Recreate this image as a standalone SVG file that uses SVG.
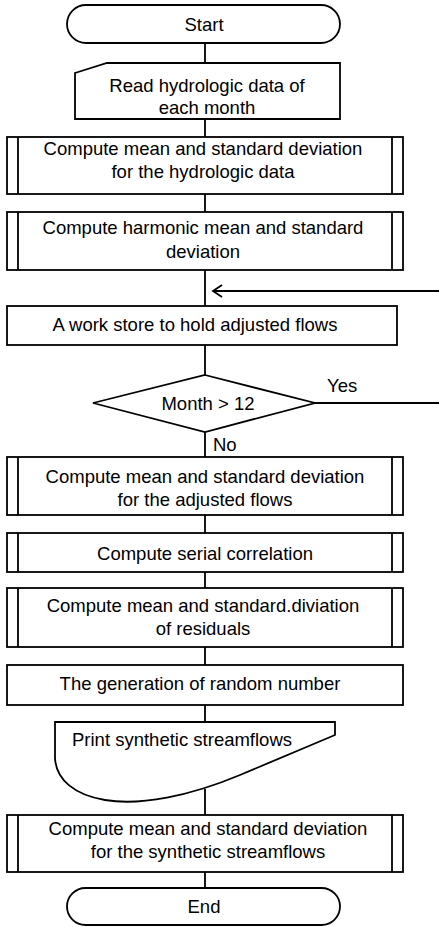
<svg xmlns="http://www.w3.org/2000/svg" width="439" height="927" viewBox="0 0 439 927">
<style>
.s{fill:#fff;stroke:#000;stroke-width:1.8}
.l{fill:none;stroke:#000;stroke-width:1.8}
text{font-family:"Liberation Sans",Arial,sans-serif;font-size:18.5px;fill:#000}
.c{text-anchor:middle}
</style>
<rect width="439" height="927" fill="#fff"/>
<g id="connectors">
<path class="l" d="M205,43V63M205,119V137M205,194V212M205,270V306M205,345V375M205,432V457M205,515V533M205,572V588M205,647V665M205,705V722M205,789V815M205,872V888"/>
<path class="l" d="M439,291H213M222,285L213,291L222,297"/>
<path class="l" d="M315,403H439"/>
<text x="327" y="392">Yes</text>
<text x="213" y="451">No</text>
</g>
<g id="start"><rect class="s" x="67" y="5" width="273" height="38" rx="19"/><text class="c" x="204" y="31">Start</text></g>
<g id="read"><path class="s" d="M75,73L107,63H340V119H75Z"/><text class="c" x="207" y="92">Read hydrologic data of</text><text class="c" x="207" y="114">each month</text></g>
<g id="p1"><rect class="s" x="7" y="137" width="396" height="57"/><path class="l" d="M18,137V194M392,137V194"/><text class="c" x="203" y="155">Compute mean and standard deviation</text><text class="c" x="203" y="178">for the hydrologic data</text></g>
<g id="p2"><rect class="s" x="7" y="212" width="396" height="58"/><path class="l" d="M18,212V270M392,212V270"/><text class="c" x="203" y="234">Compute harmonic mean and standard</text><text class="c" x="203" y="258">deviation</text></g>
<g id="store"><rect class="s" x="7" y="306" width="390" height="39"/><text class="c" x="195" y="331">A work store to hold adjusted flows</text></g>
<g id="decision"><path class="s" d="M205,375L315,403L205,432L93,403Z"/><text class="c" x="208" y="410">Month &gt; 12</text></g>
<g id="p3"><rect class="s" x="7" y="457" width="396" height="58"/><path class="l" d="M18,457V515M392,457V515"/><text class="c" x="205" y="483">Compute mean and standard deviation</text><text class="c" x="205" y="506">for the adjusted flows</text></g>
<g id="p4"><rect class="s" x="7" y="533" width="396" height="39"/><path class="l" d="M18,533V572M392,533V572"/><text class="c" x="205" y="560">Compute serial correlation</text></g>
<g id="p5"><rect class="s" x="7" y="588" width="396" height="59"/><path class="l" d="M18,588V647M392,588V647"/><text class="c" x="203" y="612">Compute mean and standard.diviation</text><text class="c" x="203" y="635">of residuals</text></g>
<g id="random"><rect class="s" x="7" y="665" width="396" height="40"/><text class="c" x="200" y="690">The generation of random number</text></g>
<g id="print"><path class="s" d="M55,722H335V735L240,775C190,796 140,806 105,800C75,795 56,780 55,758Z"/><text x="72" y="746">Print synthetic streamflows</text></g>
<g id="p6"><rect class="s" x="7" y="815" width="396" height="57"/><path class="l" d="M18,815V872M392,815V872"/><text class="c" x="208" y="835">Compute mean and standard deviation</text><text class="c" x="208" y="858">for the synthetic streamflows</text></g>
<g id="end"><rect class="s" x="67" y="888" width="273" height="37" rx="18.5"/><text class="c" x="204" y="913">End</text></g>
</svg>
